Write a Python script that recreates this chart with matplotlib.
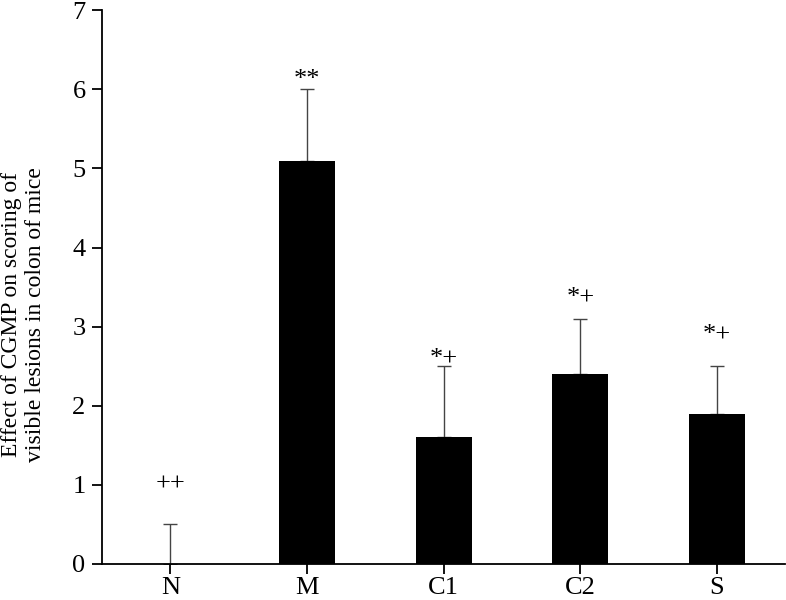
import matplotlib.pyplot as plt

groups = ['N', 'M', 'C1', 'C2', 'S']
means = [0.0, 5.1, 1.6, 2.4, 1.9]
errors = [0.5, 0.9, 0.9, 0.7, 0.6]
marks = ['++', '**', '*+', '*+', '*+']
mark_y = [1.0, 6.12, 2.6, 3.37, 2.9]

plt.rcParams['font.family'] = ['Liberation Serif', 'DejaVu Serif']

fig, ax = plt.subplots(figsize=(7.86, 6), dpi=100)
fig.subplots_adjust(left=0.13, right=0.999, bottom=0.06, top=0.983)

x = range(len(groups))
ax.bar(x, means, width=0.41, color='black', zorder=2)
# upper error bars only
ax.errorbar(x, means, yerr=[[0] * len(errors), errors], fmt='none',
            ecolor='#444444', elinewidth=1, capsize=5, capthick=1, zorder=1)

for xi, m, my in zip(x, marks, mark_y):
    ax.text(xi, my, m, ha='center', va='center', fontsize=19)

ax.set_xlim(-0.5, 4.5)
ax.set_ylim(0, 7)
ax.set_xticks(list(x))
ax.set_xticklabels(groups)
ax.set_yticks(range(8))
ax.set_ylabel('Effect of CGMP on scoring of\nvisible lesions in colon of mice', fontsize=17)
ax.yaxis.set_label_coords(-0.082, 0.45)

ax.spines['top'].set_visible(False)
ax.spines['right'].set_visible(False)
ax.spines['left'].set_linewidth(1.3)
ax.spines['bottom'].set_linewidth(1.3)
ax.tick_params(direction='out', length=7, width=1.3, labelsize=19, pad=5)
ax.tick_params(axis='x', pad=2)

plt.savefig('out.png')
